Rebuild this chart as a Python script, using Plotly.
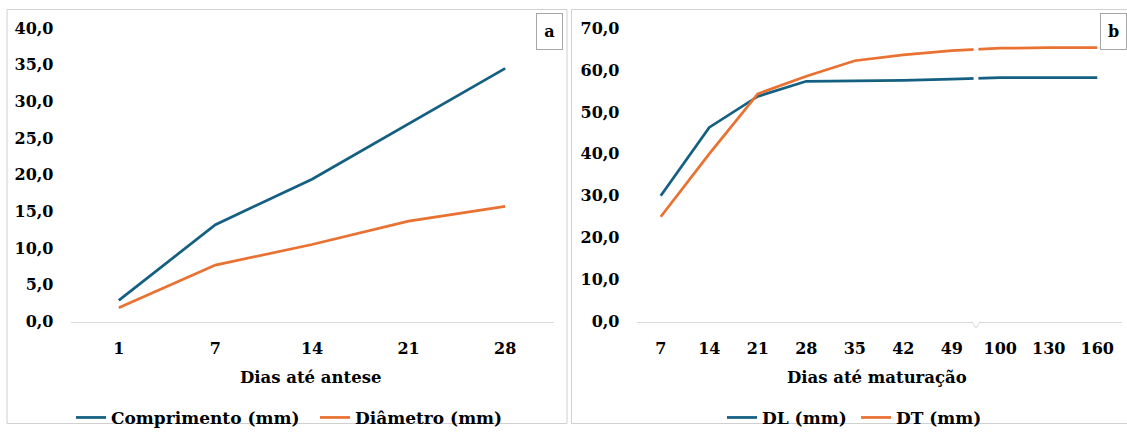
import plotly.graph_objects as go

# ---------------- data ----------------
dias_antese = ["1", "7", "14", "21", "28"]
comprimento = [2.9, 13.2, 19.4, 27.0, 34.5]
diametro = [1.9, 7.7, 10.5, 13.7, 15.7]

dias_maturacao = ["7", "14", "21", "28", "35", "42", "49", "100", "130", "160"]
dl = [30.0, 46.3, 53.7, 57.3, 57.4, 57.5, 57.8, 58.2, 58.2, 58.2]
dt = [25.0, 40.0, 54.3, 58.5, 62.2, 63.6, 64.6, 65.2, 65.3, 65.3]

BLUE = "#156082"
ORANGE = "#E97132"
FONT = "DejaVu Serif"
W, H = 1127, 436

def px(x):
    return x / W

def py(y):
    # page pixel (from top) -> paper fraction
    return (H - y) / H

PLOT_TOP, PLOT_BOTTOM = 20.0, 328.4

fig = go.Figure()
fig.add_trace(go.Scatter(x=dias_antese, y=comprimento, mode="lines", name="Comprimento (mm)",
                         line=dict(color=BLUE, width=2.75), xaxis="x", yaxis="y", legend="legend"))
fig.add_trace(go.Scatter(x=dias_antese, y=diametro, mode="lines", name="Diâmetro (mm)",
                         line=dict(color=ORANGE, width=2.75), xaxis="x", yaxis="y", legend="legend2"))
fig.add_trace(go.Scatter(x=dias_maturacao, y=dl, mode="lines", name="DL (mm)",
                         line=dict(color=BLUE, width=2.75), xaxis="x2", yaxis="y2", legend="legend3"))
fig.add_trace(go.Scatter(x=dias_maturacao, y=dt, mode="lines", name="DT (mm)",
                         line=dict(color=ORANGE, width=2.75), xaxis="x2", yaxis="y2", legend="legend4"))

tickfont = dict(family=FONT, size=16, color="#000000", weight="bold")
ydom = [py(PLOT_BOTTOM), py(PLOT_TOP)]

xcommon = dict(type="category", showgrid=False, showline=True, linecolor="#D9D9D9", linewidth=1,
               ticks="", zeroline=False, ticklabelstandoff=12, fixedrange=True, tickfont=tickfont)
ycommon = dict(showgrid=False, showline=False, zeroline=False, ticks="", tickfont=tickfont,
               tickformat=".1f", ticklabelstandoff=16, fixedrange=True)

fig.update_layout(
    width=W, height=H,
    margin=dict(l=0, r=0, t=0, b=0),
    paper_bgcolor="white", plot_bgcolor="white",
    separators=",.",
    showlegend=True,
    font=dict(family=FONT, size=17, color="#000000"),
    xaxis=dict(domain=[px(70.5), px(553.5)], range=[-0.5, 4.5], anchor="y", **xcommon),
    yaxis=dict(domain=ydom, range=[0, 40], dtick=5, anchor="x", **ycommon),
    xaxis2=dict(domain=[px(636.5), px(1121.5)], range=[-0.5, 9.5], anchor="y2", **xcommon),
    yaxis2=dict(domain=ydom, range=[0, 70], dtick=10, anchor="x2", **ycommon),
)

for name, x0 in [("legend", 81), ("legend2", 325), ("legend3", 732), ("legend4", 866)]:
    fig.update_layout({name: dict(orientation="h", x=px(x0 - 10), xanchor="left", y=py(429.6),
                                  yanchor="middle", font=dict(family=FONT, size=17, color="#000000", weight="bold"),
                                  bgcolor="rgba(0,0,0,0)", itemclick=False, itemdoubleclick=False)})

fig.add_annotation(text="Dias até antese", x=px(310), y=py(387.3), xref="paper", yref="paper",
                   showarrow=False, font=dict(family=FONT, size=16.5, weight="bold"), xanchor="center", yanchor="middle")
fig.add_annotation(text="Dias até maturação", x=px(877), y=py(387.3), xref="paper", yref="paper",
                   showarrow=False, font=dict(family=FONT, size=16.5, weight="bold"), xanchor="center", yanchor="middle")

for lbl, cx in [("a", 549.5), ("b", 1113)]:
    fig.add_annotation(text=lbl, x=px(cx), y=py(24), xref="paper", yref="paper", showarrow=False,
                       font=dict(family=FONT, size=16, weight="bold"), width=25, height=35,
                       borderpad=0, bordercolor="#A6A6A6", borderwidth=1, bgcolor="white",
                       xanchor="center", yanchor="middle")

shapes = []
shapes.append(dict(type="rect", xref="paper", yref="paper", x0=px(7), x1=px(567), y0=py(435.5), y1=py(0.5),
                   line=dict(color="#D0D0D0", width=1), layer="below"))
shapes.append(dict(type="rect", xref="paper", yref="paper", x0=px(571.5), x1=px(1135), y0=py(435.5), y1=py(0.5),
                   line=dict(color="#D0D0D0", width=1), layer="below"))
shapes.append(dict(type="rect", xref="x2", yref="y2", x0=6.45, x1=6.55, y0=48, y1=70,
                   fillcolor="white", line=dict(width=0), layer="above"))
shapes.append(dict(type="rect", xref="x2", yref="paper", x0=6.42, x1=6.58,
                   y0=py(PLOT_BOTTOM + 2), y1=py(PLOT_BOTTOM - 2),
                   fillcolor="white", line=dict(width=0), layer="above"))
shapes.append(dict(type="path", xref="x2", yref="paper",
                   path=f"M 6.41 {py(PLOT_BOTTOM)} L 6.5 {py(PLOT_BOTTOM + 7)} L 6.59 {py(PLOT_BOTTOM)}",
                   line=dict(color="#D9D9D9", width=1), layer="above"))
fig.update_layout(shapes=shapes)

post = ("document.documentElement.style.margin='0';document.body.style.margin='0';"
        "document.body.style.overflow='hidden';"
        "var d=document.getElementsByClassName('plotly-graph-div')[0];"
        "d.style.position='fixed';d.style.top='0px';d.style.left='0px';")
fig.write_html("out.html", config={"displayModeBar": False}, post_script=post)
